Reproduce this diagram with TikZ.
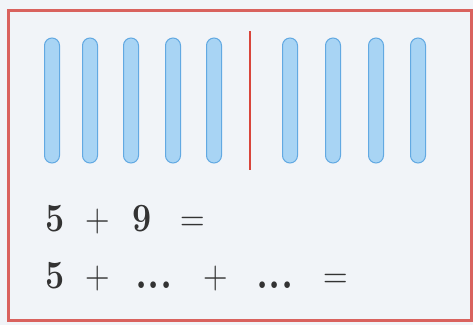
\documentclass[tikz,border=0pt]{standalone}
\usepackage{fontspec}
\usepackage{tikz}
\usetikzlibrary{positioning}

\newfontfamily\sumfont[FakeStretch=0.85]{Latin Modern Roman}

\definecolor{pagebg}{HTML}{F1F4F8}
\definecolor{framered}{HTML}{D9625E}
\definecolor{splitred}{HTML}{D8453B}
\definecolor{stickfill}{HTML}{A8D4F4}
\definecolor{stickline}{HTML}{62A9E2}
\definecolor{inkgray}{HTML}{333333}

\newcommand{\blankdots}{{\fontsize{46}{50}\selectfont.\kern0.5pt.\kern0.5pt.}}

\tikzset{
  stick/.style={fill=stickfill,draw=stickline,line width=1pt,rounded corners=7.5pt},
  sumsign/.style={inner sep=0pt,anchor=base west,text=inkgray,
    font=\sumfont\fontsize{40}{46}\selectfont},
  sumdigit/.style={sumsign,font=\sumfont\fontsize{40}{46}\selectfont\bfseries}
}

\begin{document}
\begin{tikzpicture}[x=1pt,y=-1pt]
            % page and frame
            \fill[pagebg] (0,0) rectangle (473,325);
            \useasboundingbox (0,0) rectangle (473,325);
            \draw[framered,line width=3pt] (8,10) rectangle (471,320);

            % counting sticks
            \begin{scope}
                \foreach \x in {52,90,131,173,214,290,333,376,418}{
                    \draw[stick] (\x-7.5,38) rectangle (\x+7.5,163);
                }
                \coordinate (cut top) at (250,31);
                \coordinate (cut bot) at (250,170);
                \draw[splitred,line width=2.8pt] (cut top)--(cut bot);
            \end{scope}

            % 5 + 9 =
            \begin{scope}
                \foreach \x/\lab/\nm/\kind in {45/5/a/sumdigit,85/+/b/sumsign,132/9/c/sumdigit,180/=/d/sumsign}{
                    \node[\kind] (top \nm) at (\x,231) {\lab};
                }
            \end{scope}

            % 5 + ... + ... =
            \begin{scope}
                \foreach \x/\lab/\nm/\kind in {45/5/a/sumdigit,85/+/b/sumsign,135/\blankdots/c/sumdigit,
                                               203/+/d/sumsign,256/\blankdots/e/sumdigit,323/=/f/sumsign}{
                    \node[\kind] (bot \nm) at (\x,288) {\lab};
                }
            \end{scope}
        \end{tikzpicture}
\end{document}
